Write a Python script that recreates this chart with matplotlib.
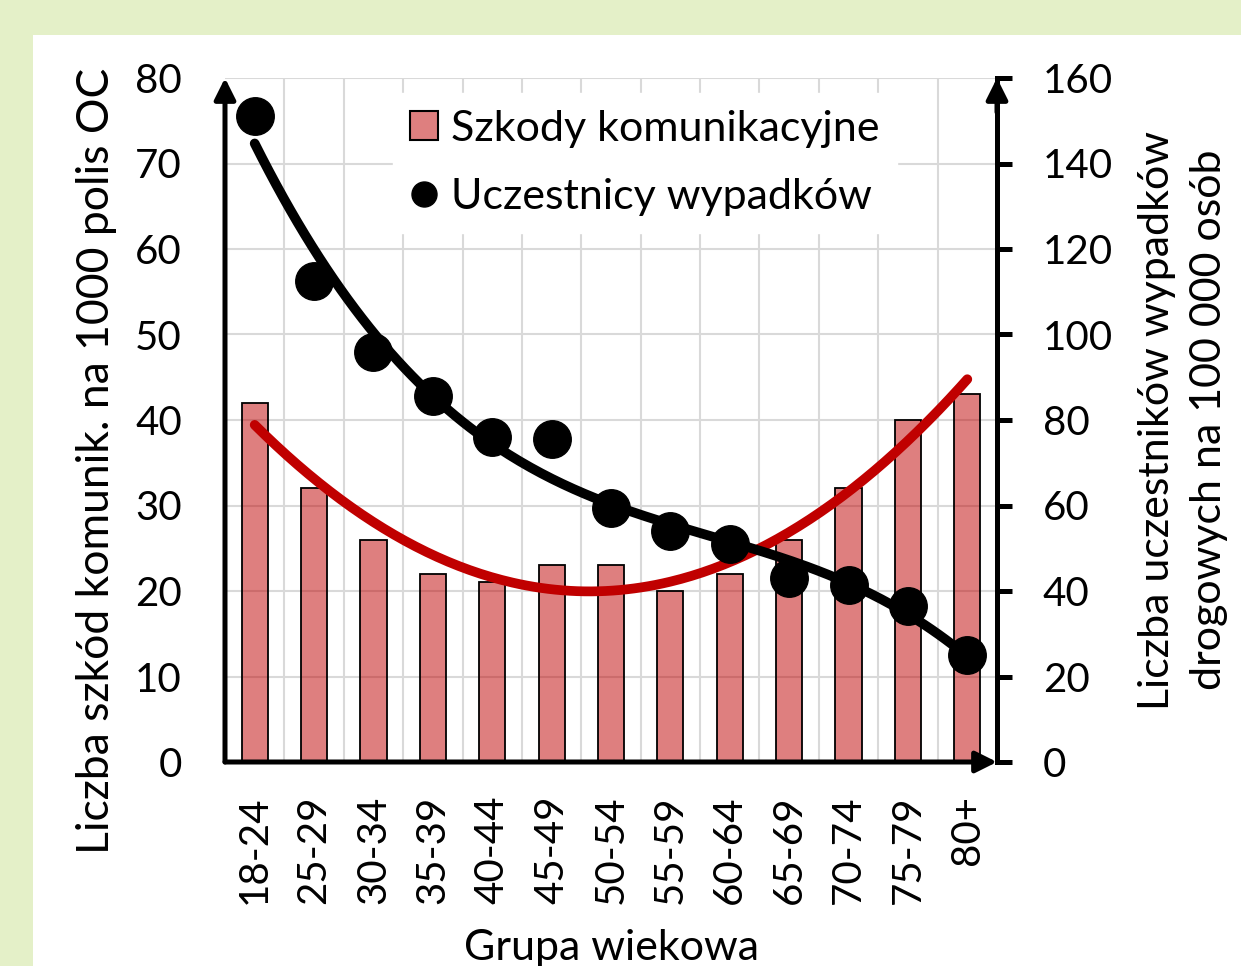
import matplotlib.pyplot as plt
import numpy as np
from matplotlib.patches import Rectangle, Patch
from matplotlib.lines import Line2D

plt.rcParams['font.family'] = ['Lato', 'DejaVu Sans']

# age groups and the two series
groups = ['18-24', '25-29', '30-34', '35-39', '40-44', '45-49', '50-54',
          '55-59', '60-64', '65-69', '70-74', '75-79', '80+']
claims = [42, 32, 26, 22, 21, 23, 23, 20, 22, 26, 32, 40, 43]          # per 1000 OC policies
victims = [151, 112.5, 96, 85.5, 76, 75.5, 59.5, 54, 51, 43, 41.5, 36.5, 25]  # per 100 000 people

x = np.arange(len(groups))

fig = plt.figure(figsize=(12.41, 9.66), dpi=100, facecolor='#E4F0C8')
fig.patches.append(Rectangle((33 / 1241, 0), 1, 1 - 35 / 966, transform=fig.transFigure,
                             facecolor='white', edgecolor='none', zorder=-10))

ax = fig.add_axes([225 / 1241, 1 - 762 / 966, (997 - 225) / 1241, (762 - 78) / 966])
ax.set_facecolor('none')

ax.bar(x, claims, width=0.44, color=(0.75, 0, 0, 0.5), edgecolor='black', linewidth=1.3, zorder=2)

# trend lines (polynomial fits like in the spreadsheet)
xs = np.linspace(0, len(groups) - 1, 200)
red_fit = np.polyval(np.polyfit(x, claims, 2), xs)
ax.plot(xs, red_fit, color='#C00000', lw=7, solid_capstyle='round', zorder=3)

ax.set_xlim(-0.5, len(groups) - 0.5)
ax.set_ylim(0, 80)
ax.set_yticks(range(0, 81, 10))
ax.set_xticks(x)
ax.set_xticklabels(groups, rotation=90)
ax.set_xticks(x[:-1] + 0.5, minor=True)
ax.grid(True, which='major', axis='y', color='#D9D9D9', lw=1.5, zorder=0)
ax.grid(True, which='minor', axis='x', color='#D9D9D9', lw=1.5, zorder=0)
ax.set_axisbelow(True)
ax.tick_params(axis='y', length=0, pad=31, labelsize=29)
ax.tick_params(axis='x', which='both', length=0, pad=24, labelsize=29)
for s in ax.spines.values():
    s.set_visible(False)
ax.set_ylabel('Liczba szkód komunik. na 1000 polis OC', fontsize=32)
ax.yaxis.set_label_coords(-0.14, 0.44)
ax.set_xlabel('Grupa wiekowa', fontsize=31, labelpad=18)

ax2 = ax.twinx()
ax2.set_ylim(0, 160)
ax2.set_yticks(range(0, 161, 20))
black_fit = np.polyval(np.polyfit(x, victims, 3), xs)
ax2.plot(xs, black_fit, color='black', lw=7, solid_capstyle='round', zorder=3)
ax2.plot(x, victims, 'o', color='black', ms=27, zorder=4)
for s in ['left', 'top', 'bottom']:
    ax2.spines[s].set_visible(False)
ax2.spines['right'].set_linewidth(3.6)
ax2.tick_params(axis='y', length=11, width=3.6, pad=22, labelsize=29)
ax2.set_ylabel('Liczba uczestników wypadków\ndrogowych na 100 000 osób', fontsize=31,
               labelpad=18, linespacing=1.45)

# axis arrows
arrow = dict(arrowstyle='-|>', lw=3.6, color='black', mutation_scale=32, shrinkA=0, shrinkB=0)
ax2.annotate('', xy=(0, 1), xytext=(0, 0), xycoords='axes fraction', arrowprops=arrow, annotation_clip=False)
ax2.annotate('', xy=(1, 0), xytext=(0, 0), xycoords='axes fraction', arrowprops=arrow, annotation_clip=False)
ax2.annotate('', xy=(1, 1), xytext=(1, 0.95), xycoords='axes fraction', arrowprops=arrow, annotation_clip=False)

handles = [Patch(facecolor=(0.75, 0, 0, 0.5), edgecolor='black', linewidth=1.5),
           Line2D([], [], marker='o', color='black', ls='none', ms=18)]
leg = ax2.legend(handles, ['Szkody komunikacyjne', 'Uczestnicy wypadków'],
                 loc='upper left', bbox_to_anchor=(0.19, 1.01), fontsize=31,
                 frameon=True, fancybox=False, framealpha=1, edgecolor='white',
                 handlelength=0.65, handleheight=0.65, handletextpad=0.3, labelspacing=0.7,
                 borderpad=0.4)
leg.set_zorder(10)

fig.savefig('out.png', dpi=100, facecolor=fig.get_facecolor())
